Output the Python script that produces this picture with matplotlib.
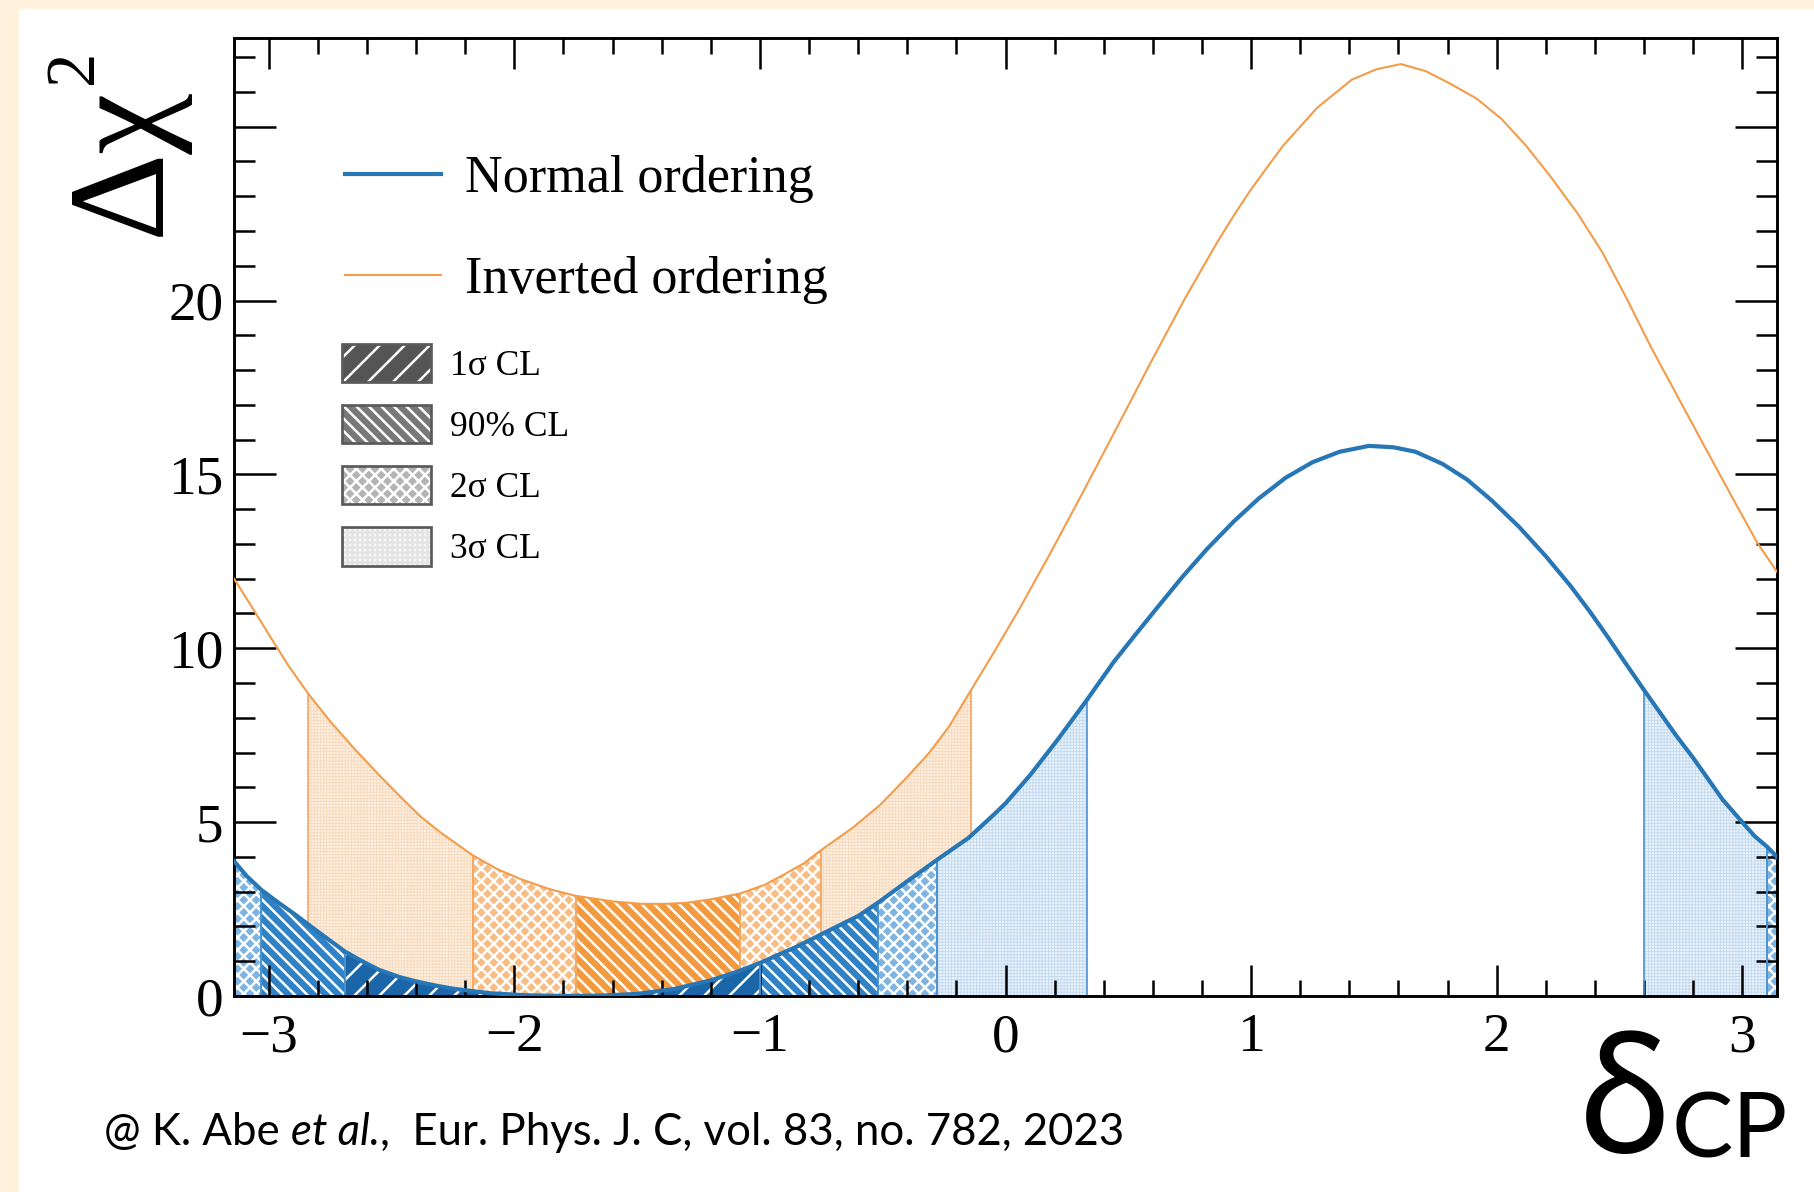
import numpy as np
import matplotlib
matplotlib.use("Agg")
import matplotlib.pyplot as plt
from matplotlib.patches import Patch, Rectangle
from matplotlib.lines import Line2D
from matplotlib.legend_handler import HandlerTuple
from matplotlib.ticker import MultipleLocator, FixedLocator, FixedFormatter

# Normal ordering Delta chi^2
no_x = [-3.1416, -3.09, -3.03, -2.96, -2.90, -2.80, -2.69, -2.62, -2.55, -2.47,
        -2.40, -2.32, -2.25, -2.10, -1.95, -1.80, -1.65, -1.50, -1.35, -1.20,
        -1.10, -1.00, -0.85, -0.70, -0.60, -0.52, -0.40, -0.28, -0.15, -0.05,
        0.00, 0.10, 0.21, 0.33, 0.44, 0.53, 0.61, 0.72, 0.82, 0.93,
        1.03, 1.14, 1.25, 1.36, 1.48, 1.58, 1.67, 1.78, 1.88, 1.98,
        2.09, 2.20, 2.30, 2.38, 2.45, 2.52, 2.60, 2.67, 2.73, 2.80,
        2.85, 2.92, 3.00, 3.05, 3.10, 3.1416]
no_y = [3.88, 3.45, 3.05, 2.68, 2.38, 1.85, 1.28, 1.00, 0.75, 0.55,
        0.42, 0.30, 0.21, 0.08, 0.02, 0.0, 0.01, 0.06, 0.20, 0.45,
        0.68, 0.95, 1.42, 1.95, 2.30, 2.68, 3.30, 3.91, 4.55, 5.20,
        5.54, 6.35, 7.35, 8.50, 9.60, 10.4, 11.1, 12.05, 12.85, 13.65,
        14.3, 14.9, 15.35, 15.65, 15.82, 15.78, 15.65, 15.3, 14.85, 14.25,
        13.5, 12.65, 11.8, 11.05, 10.35, 9.62, 8.80, 8.10, 7.50, 6.85,
        6.35, 5.65, 5.00, 4.60, 4.30, 4.00]

# Inverted ordering Delta chi^2
io_x = [-3.1416, -3.07, -3.00, -2.92, -2.84, -2.75, -2.65, -2.55, -2.46, -2.38,
        -2.30, -2.17, -2.07, -1.97, -1.86, -1.75, -1.60, -1.48, -1.38, -1.30,
        -1.20, -1.08, -0.98, -0.90, -0.82, -0.75, -0.62, -0.51, -0.40, -0.31,
        -0.23, -0.14, -0.05, 0.05, 0.18, 0.32, 0.45, 0.59, 0.73, 0.86,
        0.93, 1.00, 1.13, 1.27, 1.41, 1.51, 1.61, 1.71, 1.81, 1.92,
        2.02, 2.12, 2.22, 2.33, 2.43, 2.53, 2.63, 2.74, 2.84, 2.97,
        3.06, 3.1416]
io_y = [12.0, 11.2, 10.4, 9.5, 8.70, 7.90, 7.10, 6.35, 5.70, 5.15,
        4.70, 4.05, 3.65, 3.35, 3.08, 2.88, 2.72, 2.65, 2.65, 2.68,
        2.78, 2.95, 3.20, 3.50, 3.82, 4.20, 4.85, 5.50, 6.30, 7.00,
        7.75, 8.80, 9.85, 11.05, 12.7, 14.55, 16.3, 18.2, 20.05, 21.65,
        22.45, 23.2, 24.45, 25.55, 26.35, 26.65, 26.8, 26.6, 26.24, 25.8,
        25.22, 24.45, 23.56, 22.5, 21.39, 20.05, 18.64, 17.2, 15.89, 14.2,
        13.05, 12.2]

# confidence intervals in delta_CP
no_1sig = [(-2.69, -1.00)]
no_90 = [(-3.03, -2.69), (-1.00, -0.52)]
no_2sig = [(-3.1416, -3.03), (-0.52, -0.28), (3.10, 3.1416)]
no_3sig = [(-0.28, 0.33), (2.60, 3.10)]
io_90 = [(-1.75, -1.08)]
io_2sig = [(-2.17, -1.75), (-1.08, -0.75)]
io_3sig = [(-2.84, -2.17), (-0.75, -0.14)]

ytick_vals = [0, 5, 10, 15, 20, 25]
ytick_labels = ["0", "5", "10", "15", "20", ""]
cl_labels = ["1σ CL", "90% CL", "2σ CL", "3σ CL"]

serif = "Liberation Serif"
plt.rcParams["hatch.linewidth"] = 1.2

fig = plt.figure(figsize=(1814 / 150, 1192 / 150), dpi=150, facecolor="#fff3dd")
fig.patches.append(Rectangle((19 / 1814, 0), 1, 1 - 9 / 1192, transform=fig.transFigure,
                             facecolor="white", edgecolor="none", zorder=-10))
ax = fig.add_axes([234 / 1814, 1 - 996 / 1192, 1543 / 1814, 958 / 1192])


def fill_regions(x, y, regions, face, hatch_col, hatch, z, thin=False):
    x = np.array(x)
    y = np.array(y)
    for a, b in regions:
        m = (x >= a - 1e-9) & (x <= b + 1e-9)
        c = ax.fill_between(x, 0, y, where=m, facecolor=face, edgecolor=hatch_col,
                            linewidth=0, hatch=hatch, zorder=z)
        if thin and hasattr(c, "set_hatch_linewidth"):
            c.set_hatch_linewidth(0.4)


def boundary_lines(x, y, regions, col, z):
    x = np.array(x)
    y = np.array(y)
    for a, b in regions:
        for v in (a, b):
            if abs(abs(v) - 3.1416) < 1e-6:
                continue
            i = np.argmin(np.abs(x - v))
            ax.vlines(x[i], 0, y[i], color=col, lw=0.8, zorder=z)


# inverted ordering bands
fill_regions(io_x, io_y, io_3sig, "#fdf0e2", "#f7d9bb", "++++++++", 1.0, thin=True)
fill_regions(io_x, io_y, io_2sig, "#f8bd84", "white", "xxxx", 1.0)
fill_regions(io_x, io_y, io_90, "#f39a3e", "white", "\\\\\\\\", 1.0)
for reg in (io_3sig, io_2sig, io_90):
    boundary_lines(io_x, io_y, reg, "#f5a860", 1.1)

# normal ordering bands
fill_regions(no_x, no_y, no_3sig, "#e8f2fb", "#c4daee", "++++++++", 1.5, thin=True)
fill_regions(no_x, no_y, no_2sig, "#7db4e2", "white", "xxxx", 1.5)
fill_regions(no_x, no_y, no_90, "#2f82c6", "white", "\\\\\\\\", 1.5)
fill_regions(no_x, no_y, no_1sig, "#1a66a8", "white", "//", 1.5)
for reg in (no_3sig, no_2sig, no_90, no_1sig):
    boundary_lines(no_x, no_y, reg, "#4a92cf", 1.6)

ax.plot(io_x, io_y, color="#f39c4a", lw=1.0, zorder=3)
ax.plot(no_x, no_y, color="#2776b6", lw=2.0, zorder=3)

ax.set_xlim(-np.pi, np.pi)
ax.set_ylim(0, 27.55)
ax.xaxis.set_major_locator(MultipleLocator(1))
ax.xaxis.set_minor_locator(MultipleLocator(0.2))
ax.yaxis.set_major_locator(FixedLocator(ytick_vals))
ax.yaxis.set_major_formatter(FixedFormatter(ytick_labels))
ax.yaxis.set_minor_locator(MultipleLocator(1))
ax.tick_params(which="both", direction="in", top=True, right=True, width=1.2)
ax.tick_params(axis="x", which="major", length=15, pad=8)
ax.tick_params(axis="x", which="minor", length=7.5)
ax.tick_params(axis="y", which="major", length=20, pad=5)
ax.tick_params(axis="y", which="minor", length=10)
for lab in ax.get_xticklabels() + ax.get_yticklabels():
    lab.set_fontfamily(serif)
    lab.set_fontsize(26.5)
for s in ax.spines.values():
    s.set_linewidth(1.4)

# legends
line_handles = [Line2D([], [], color="#2776b6", lw=2.0),
                Line2D([], [], color="#f39c4a", lw=1.0)]
leg1 = ax.legend(line_handles, ["Normal ordering", "Inverted ordering"],
                 loc="upper left", bbox_to_anchor=(0.072, 0.878), frameon=False,
                 prop={"family": serif, "size": 25}, handlelength=1.85,
                 handletextpad=0.45, labelspacing=1.02, borderpad=0, borderaxespad=0)
ax.add_artist(leg1)

grey_faces = ["#555555", "#787878", "#b4b4b4", "#f7f7f7"]
grey_hatch = ["//", "\\\\\\\\", "xxxx", "+++++"]
grey_hcol = ["white", "white", "white", "#e4e4e4"]
patch_handles = []
for fc, h, hc in zip(grey_faces, grey_hatch, grey_hcol):
    patch_handles.append((Patch(facecolor=fc, edgecolor=hc, hatch=h, lw=0),
                          Patch(facecolor="none", edgecolor="#5a5a5a", lw=1.3)))
ax.legend(patch_handles, cl_labels,
          handler_map={tuple: HandlerTuple(ndivide=1, pad=0)},
          loc="upper left", bbox_to_anchor=(0.070, 0.681), frameon=False,
          prop={"family": serif, "size": 17}, handlelength=2.5, handleheight=1.3,
          handletextpad=0.55, labelspacing=0.62, borderpad=0, borderaxespad=0)

# axis titles pasted over the plot
fig.canvas.draw()
r = fig.canvas.get_renderer()
inv = fig.transFigure.inverted()
t = fig.text(159 / 1814, 1 - 236 / 1192, "Δχ", rotation=90, rotation_mode="anchor",
             ha="left", va="baseline", family=serif, fontsize=66)
top = inv.transform(t.get_window_extent(r))[1][1]
fig.text(92 / 1814, top + 3 / 1192, "2", rotation=90, rotation_mode="anchor",
         ha="left", va="baseline", family=serif, fontsize=33)
fig.text(1579 / 1814, 1 - 1152 / 1192, "δ", ha="left", va="baseline",
         family=["Noto Sans", "DejaVu Sans"], fontsize=76)
fig.text(1672 / 1814, 1 - 1157 / 1192, "CP", ha="left", va="baseline",
         family=["Lato", "DejaVu Sans"], fontsize=44)

# reference caption
cap_y = 1 - 1145 / 1192
cap_size = 21
t = fig.text(104 / 1814, cap_y, "@ K. Abe ", ha="left", va="baseline",
             family="Lato", fontsize=cap_size)
x1 = inv.transform(t.get_window_extent(r))[1][0]
t = fig.text(x1, cap_y, "et al.", ha="left", va="baseline", family="Lato",
             style="italic", fontsize=cap_size)
x1 = inv.transform(t.get_window_extent(r))[1][0]
fig.text(x1, cap_y, ",  Eur. Phys. J. C, vol. 83, no. 782, 2023", ha="left",
         va="baseline", family="Lato", fontsize=cap_size)

fig.savefig("out.png", dpi=150, facecolor=fig.get_facecolor())
